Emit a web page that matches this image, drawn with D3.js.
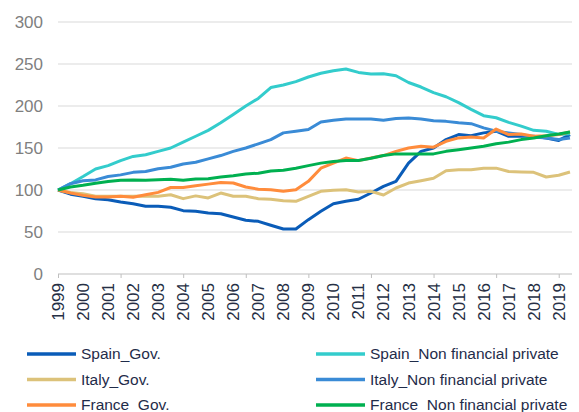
<!DOCTYPE html>
<html>
<head>
<meta charset="utf-8">
<script src="https://cdn.jsdelivr.net/npm/d3@7/dist/d3.min.js"></script>
<style>
  html, body { margin: 0; padding: 0; background: #fff; }
  svg { display: block; font-family: "Liberation Sans", Arial, sans-serif; }
</style>
</head>
<body>
<div id="chart"></div>
<script>
// half-year observation points
const years = [1999, 1999.5, 2000, 2000.5, 2001, 2001.5, 2002, 2002.5, 2003, 2003.5,
  2004, 2004.5, 2005, 2005.5, 2006, 2006.5, 2007, 2007.5, 2008, 2008.5,
  2009, 2009.5, 2010, 2010.5, 2011, 2011.5, 2012, 2012.5, 2013, 2013.5,
  2014, 2014.5, 2015, 2015.5, 2016, 2016.5, 2017, 2017.5, 2018, 2018.5,
  2019, 2019.45];

const spainGov = [100, 95, 92.5, 89.7, 88.5, 85.7, 83.7, 80.6, 80.6, 79.4,
  75.4, 74.6, 72.6, 71.8, 67.9, 64, 62.7, 58, 53.5, 53.5,
  64.7, 74.6, 83.7, 86.5, 89, 96.4, 104.4, 110.3, 132, 146,
  150, 160, 166, 164.7, 168, 170, 164, 164, 164, 162,
  159, 166];
const spainNfp = [100, 107.5, 116, 125, 129, 135, 140, 142, 146, 150,
  157, 164, 171, 180, 190, 200, 209, 222, 225, 229,
  234.5, 239, 242, 244, 240, 238, 238.5, 236, 228, 222.6,
  216, 211, 204, 196, 188.5, 186, 180.5, 176, 171, 170,
  166, 167];
const italyGov = [100, 97, 95.6, 92.5, 92.5, 92.5, 92.5, 93, 92.5, 94.4,
  89.7, 93, 90.5, 96.4, 92.5, 92.5, 89.7, 89, 87.3, 86.5,
  92.5, 98.4, 99.6, 100.4, 97.6, 98.4, 94, 102.4, 108.3, 111,
  114, 123, 124, 124, 126, 126, 122, 121.4, 121, 115.5,
  117.5, 121.4];
const italyNfp = [100, 107.5, 111, 112, 116, 118, 121, 122, 125.4, 127,
  131, 133, 137, 141, 146, 150, 155, 160, 168, 170,
  172, 181, 183, 184.5, 184.5, 184.5, 183, 185, 185.7, 184.5,
  182.5, 181.7, 180, 179, 174, 170, 168, 166, 163, 162,
  160, 162];
const franceGov = [100, 96.4, 93.6, 91.7, 91.7, 92.5, 91.3, 94.4, 97.2, 103,
  103, 105, 107, 109, 108.3, 103.6, 101, 100.4, 98.4, 100.4,
  110.3, 126, 132, 138, 135, 138, 141, 146, 150, 152,
  151, 158, 162, 163, 162, 172.6, 166, 166.7, 164, 164.7,
  166, 169];
const franceNfp = [100, 103.6, 105.6, 108, 110, 111.5, 112, 111.5, 112.3, 112.7,
  111.5, 113, 113.5, 115.5, 117, 119, 120, 122.6, 123.4, 126,
  129, 132, 134, 135, 135, 137.7, 141, 143, 143, 143,
  143, 146, 148, 150, 152, 155, 157, 160, 162, 164.7,
  166.7, 169];

const yearLabels = ['1999', '2000', '2001', '2002', '2003', '2004', '2005', '2006', '2007',
  '2008', '2009', '2010', '2011', '2012', '2013', '2014', '2015', '2016', '2017', '2018', '2019'];
const yTicks = [0, 50, 100, 150, 200, 250, 300];

const seriesNames = ['Spain_Gov.', 'Spain_Non financial private', 'Italy_Gov.',
  'Italy_Non financial private', 'France_Gov.', 'France_Non financial private'];
const seriesValues = [spainGov, spainNfp, italyGov, italyNfp, franceGov, franceNfp];
const seriesColors = ['#0a5cb8', '#33cccc', '#dcc27a', '#3a8bd6', '#ff8c3c', '#00b050'];

const W = 579, H = 412;
const margin = { left: 58, right: 7, top: 22, bottom: 138 };

const svg = d3.select('#chart').append('svg')
  .attr('width', W)
  .attr('height', H);

const x = d3.scaleLinear()
  .domain([1999, 2019.53])
  .range([margin.left, W - margin.right]);
const y = d3.scaleLinear()
  .domain([0, 300])
  .range([H - margin.bottom, margin.top]);

// gridlines
svg.append('g')
  .selectAll('line')
  .data(yTicks.filter(t => t > 0))
  .enter().append('line')
  .attr('x1', x.range()[0])
  .attr('x2', x.range()[1])
  .attr('y1', d => y(d))
  .attr('y2', d => y(d))
  .attr('stroke', '#d9d9d9')
  .attr('stroke-width', 1);

// y axis labels
const yAxis = d3.axisLeft(y).tickValues(yTicks).tickSize(0).tickPadding(15);
svg.append('g')
  .attr('transform', `translate(${margin.left},0)`)
  .call(yAxis)
  .call(g => g.select('.domain').remove())
  .call(g => g.selectAll('text')
    .attr('fill', '#7f7f7f')
    .style('font-size', '17px')
    .style('font-family', '"Liberation Sans", Arial, sans-serif'));

// x axis: tick marks every 2.5 years, labels every year
const xAxis = d3.axisBottom(x)
  .tickValues([1999, 2001.5, 2004, 2006.5, 2009, 2011.5, 2014, 2016.5, 2019])
  .tickSize(4)
  .tickFormat('');
svg.append('g')
  .attr('transform', `translate(0,${y(0)})`)
  .call(xAxis)
  .call(g => g.select('.domain').attr('stroke', '#bfbfbf').attr('d', `M${x.range()[0]},0H${x.range()[1]}`))
  .call(g => g.selectAll('.tick line').attr('stroke', '#bfbfbf'));

svg.append('g')
  .selectAll('text')
  .data(yearLabels)
  .enter().append('text')
  .attr('transform', d => `translate(${x(+d) + 6},${y(0) + 9}) rotate(-90)`)
  .attr('text-anchor', 'end')
  .attr('fill', '#262f45')
  .style('font-size', '17px')
  .text(d => d);

// lines
const line = d3.line()
  .x((d, i) => x(years[i]))
  .y(d => y(d));

svg.append('g')
  .selectAll('path')
  .data(seriesValues)
  .enter().append('path')
  .attr('d', d => line(d))
  .attr('fill', 'none')
  .attr('stroke', (d, i) => seriesColors[i])
  .attr('stroke-width', 3)
  .attr('stroke-linejoin', 'round');

// legend, two columns
const legend = svg.append('g')
  .selectAll('g')
  .data(seriesNames)
  .enter().append('g')
  .attr('transform', (d, i) => `translate(${i % 2 ? 316 : 27},${354 + Math.floor(i / 2) * 25.5})`);

legend.append('line')
  .attr('x1', 0)
  .attr('x2', 49)
  .attr('stroke', (d, i) => seriesColors[i])
  .attr('stroke-width', 3.5);

legend.append('text')
  .attr('x', 54)
  .attr('dy', '0.35em')
  .attr('fill', '#1f2c4a')
  .style('font-size', '15.5px')
  .text(d => d);
</script>
</body>
</html>
